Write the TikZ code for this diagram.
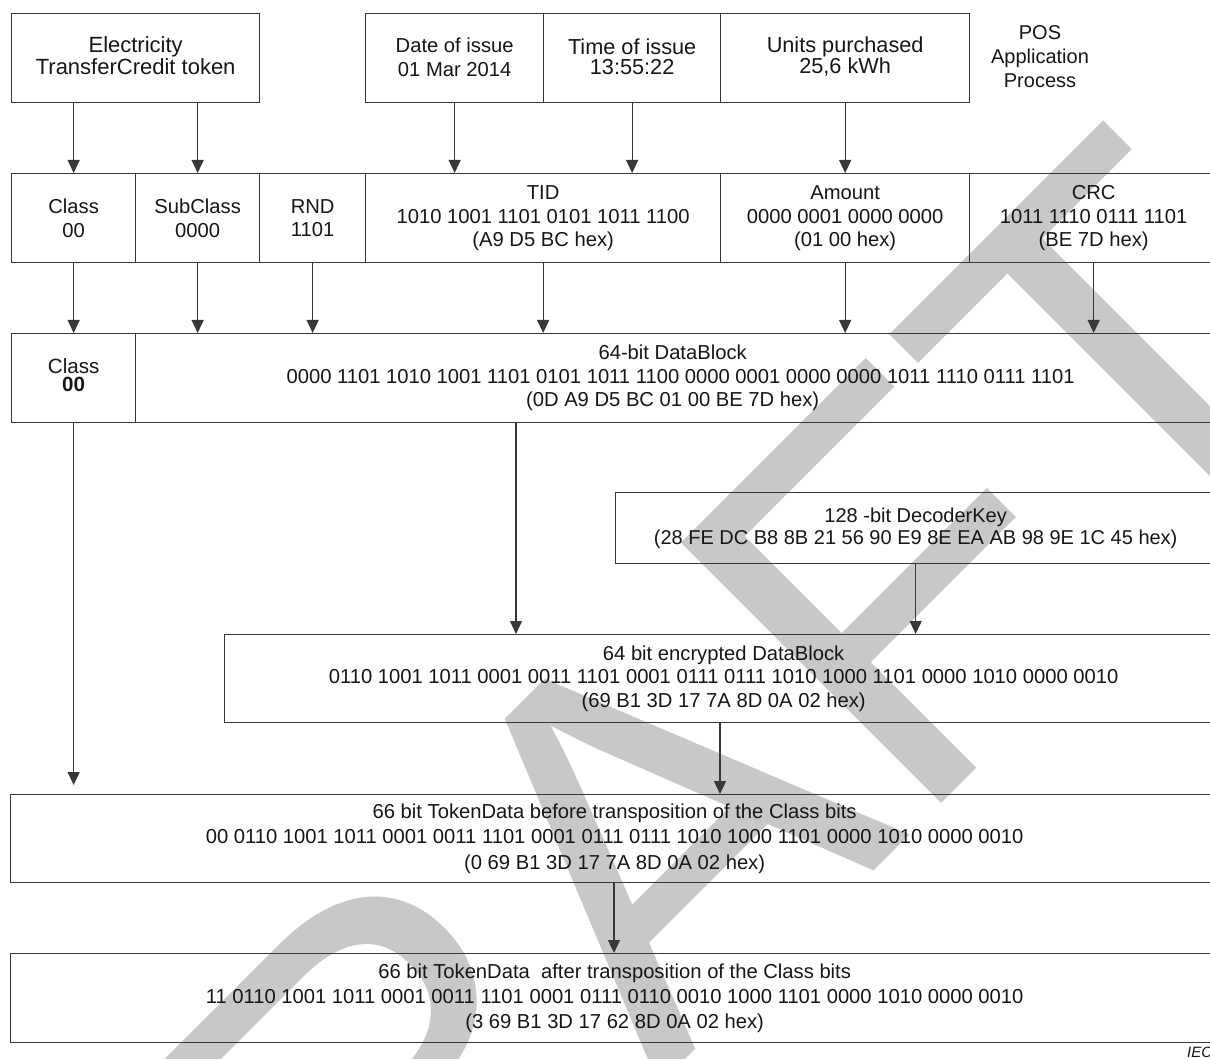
\documentclass[tikz,border=0pt]{standalone}
\usepackage{fontspec}
\setmainfont{Liberation Sans}
\usetikzlibrary{arrows.meta}
\definecolor{ink}{HTML}{161616}
\definecolor{edge}{HTML}{383838}
\definecolor{wmark}{HTML}{C8C8C8}
\tikzset{
  cell/.style={draw=edge, line width=1.3pt, inner sep=0pt, align=center,
    anchor=north west, text=ink, font=\fontsize{20.2}{23.5}\selectfont},
  arr/.style={draw=edge, line width=1.2pt, -{Triangle[width=12pt,length=13pt]}},
}
\begin{document}
\begin{tikzpicture}[x=1pt,y=-1pt]
\useasboundingbox (0,0) rectangle (1210,1059);

% watermark, set along the diagonal behind the diagram
\node[text=wmark, rotate=45, anchor=base east, inner sep=0pt,
      font=\fontsize{535}{535}\selectfont] (draft) at (1373,372) {DRAFT};

% inputs from the POS application process
% (a trailing \\[..] lifts a text block a little inside its box)
\node[cell, minimum width=248pt, minimum height=89pt, font=\fontsize{22}{21.5}\selectfont]
  (tok) at (11,13) {Electricity\\TransferCredit token\\[-16.5pt]};
\node[cell, minimum width=178pt, minimum height=89pt] (date) at (365,13)
  {Date of issue\\01 Mar 2014\\[-21.5pt]};
\node[cell, minimum width=177pt, minimum height=89pt, font=\fontsize{21.7}{20}\selectfont]
  (time) at (543,13) {Time of issue\\13:55:22\\[-16pt]};
\node[cell, minimum width=249pt, minimum height=89pt, font=\fontsize{21.7}{20}\selectfont]
  (units) at (720,13) {Units purchased\\25,6 kWh\\[-14pt]};
\node[text=ink, align=center, font=\fontsize{20}{24}\selectfont] (pos) at (1040,57)
  {POS\\Application\\Process};

% token fields
\node[cell, minimum width=124pt, minimum height=89pt] (cls) at (11,173) {Class\\00};
\node[cell, minimum width=124pt, minimum height=89pt] (sub) at (135,173) {SubClass\\0000};
\node[cell, minimum width=106pt, minimum height=89pt] (rnd) at (259,173) {RND\\1101};
\node[cell, minimum width=355pt, minimum height=89pt] (tid) at (365,173)
  {TID\\1010 1001 1101 0101 1011 1100\\(A9 D5 BC hex)};
\node[cell, minimum width=249pt, minimum height=89pt] (amt) at (720,173)
  {Amount\\0000 0001 0000 0000\\(01 00 hex)};
\node[cell, minimum width=248pt, minimum height=89pt] (crc) at (969,173)
  {CRC\\1011 1110 0111 1101\\(BE 7D hex)};

% data block
\node[cell, minimum width=124pt, minimum height=89pt, font=\fontsize{20.6}{18}\selectfont]
  (cls3) at (11,333) {Class\\\textbf{00}\\[-12pt]};
\node[cell, minimum width=1090pt, minimum height=89pt] (data) at (135,333)
  {64-bit DataBlock\hspace*{16pt}\\0000 1101 1010 1001 1101 0101 1011 1100 0000 0001 0000 0000 1011 1110 0111 1101\\(0D A9 D5 BC 01 00 BE 7D hex)\hspace*{16pt}};

% key and encryption
\node[cell, minimum width=600pt, minimum height=71pt, font=\fontsize{20}{22}\selectfont]
  (key) at (615,492) {128 -bit DecoderKey\\(28 FE DC B8 8B 21 56 90 E9 8E EA AB 98 9E 1C 45 hex)};
\node[cell, minimum width=998pt, minimum height=88pt] (enc) at (224,634)
  {64 bit encrypted DataBlock\\0110 1001 1011 0001 0011 1101 0001 0111 0111 1010 1000 1101 0000 1010 0000 0010\\(69 B1 3D 17 7A 8D 0A 02 hex)};

% token data
\node[cell, minimum width=1208pt, minimum height=88pt, font=\fontsize{20.2}{25.5}\selectfont] (td1) at (10,794)
  {66 bit TokenData before transposition of the Class bits\\00 0110 1001 1011 0001 0011 1101 0001 0111 0111 1010 1000 1101 0000 1010 0000 0010\\(0 69 B1 3D 17 7A 8D 0A 02 hex)};
\node[cell, minimum width=1208pt, minimum height=89pt, font=\fontsize{20.2}{25}\selectfont] (td2) at (10,953)
  {66 bit TokenData\ \ after transposition of the Class bits\\11 0110 1001 1011 0001 0011 1101 0001 0111 0110 0010 1000 1101 0000 1010 0000 0010\\(3 69 B1 3D 17 62 8D 0A 02 hex)};

\node[text=ink, anchor=base west, inner sep=0pt, font=\fontsize{15}{15}\selectfont\itshape]
  (iec) at (1187,1057) {IEC};

% flow of values
\draw[arr] (tok.south -| cls.north) -- (cls.north);
\draw[arr] (tok.south -| sub.north) -- (sub.north);
\draw[arr] (date.south) -- (date.south |- tid.north);
\draw[arr] (time.south) -- (time.south |- tid.north);
\draw[arr] (units.south) -- (amt.north);

\draw[arr] (cls.south) -- (cls3.north);
\draw[arr] (sub.south) -- (sub.south |- data.north);
\draw[arr] (rnd.south) -- (rnd.south |- data.north);
\draw[arr] (tid.south) -- (tid.south |- data.north);
\draw[arr] (amt.south) -- (amt.south |- data.north);
\draw[arr] (crc.south) -- (crc.south |- data.north);

\draw[arr] (data.south -| 516,0) -- (enc.north -| 516,0);
\draw[arr] (key.south) -- (key.south |- enc.north);
\draw[arr, shorten >=9pt] (cls3.south) -- (cls3.south |- td1.north);
\draw[arr] (enc.south -| 720,0) -- (td1.north -| 720,0);
\draw[arr] (td1.south -| 614,0) -- (td2.north -| 614,0);
\end{tikzpicture}
\end{document}
